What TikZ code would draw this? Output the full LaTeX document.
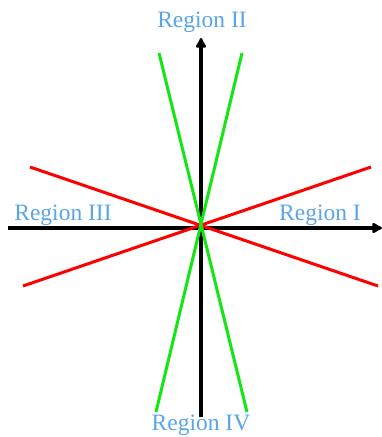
\documentclass[tikz,border=0pt]{standalone}
\usepackage{fontspec}
\setmainfont{Liberation Serif}
\usetikzlibrary{arrows.meta}
\definecolor{regionblue}{RGB}{90,165,230}
\definecolor{linegreen}{RGB}{20,230,20}

\begin{document}
\begin{tikzpicture}[x=1pt, y=-1pt, >={Latex[length=12pt,width=13pt,round]},
  axis/.style={line width=4.5pt, black},
  redline/.style={line width=3pt, red},
  greenline/.style={line width=3pt, linegreen},
  lbl/.style={text=regionblue, font=\fontsize{23.5}{26}\selectfont, inner sep=0pt}]
\useasboundingbox (0,0) rectangle (382,437);
% axes
\coordinate (o) at (201,228);
\coordinate (xl) at (8,228);
\coordinate (xr) at (382,228);
\coordinate (yb) at (201,417);
\coordinate (yt) at (201,38);
\draw[axis, ->] (xl) -- (xr);
\draw[axis, ->] (yb) -- (yt);
% red lines
\coordinate (r1) at (30,167);
\coordinate (r2) at (378,286);
\coordinate (r3) at (23,286);
\coordinate (r4) at (371,167);
\draw[redline] (r1) -- (r2);
\draw[redline] (r3) -- (r4);
% green lines
\coordinate (g1) at (159,53);
\coordinate (g2) at (247,412);
\coordinate (g3) at (242,53);
\coordinate (g4) at (156,412);
\draw[greenline] (g1) -- (g2);
\draw[greenline] (g3) -- (g4);
% labels
\node[lbl] (reg1) at (320,215) {Region I};
\node[lbl] (reg2) at (202,22) {Region II};
\node[lbl] (reg3) at (63,215) {Region III};
\node[lbl] (reg4) at (201,425) {Region IV};
\end{tikzpicture}
\end{document}
